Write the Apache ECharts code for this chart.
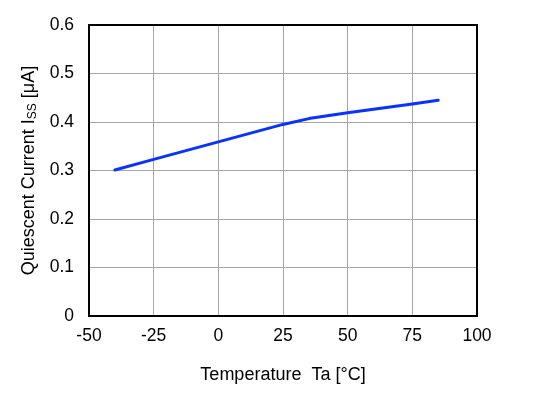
<!DOCTYPE html>
<html><head><meta charset="utf-8">
<script src="https://cdn.jsdelivr.net/npm/echarts@6/dist/echarts.min.js"></script>
<style>html,body{margin:0;padding:0;background:#fff}#c{width:544px;height:395px}</style>
</head><body><div id="c"></div>
<script>
const temps = [-40, -25, 0, 25, 35, 50, 75, 85];
const current = [0.301, 0.323, 0.359, 0.395, 0.407, 0.419, 0.437, 0.445];
const xTicks = [-50, -25, 0, 25, 50, 75, 100];
const yTicks = [0, 0.1, 0.2, 0.3, 0.4, 0.5, 0.6];

const chart = echarts.init(document.getElementById('c'), null, {renderer: 'canvas'});
const font = 'Liberation Sans, Arial, sans-serif';
chart.setOption({
  animation: false,
  grid: {left: 89, right: 67, top: 25, bottom: 79, show: true, borderColor: '#000', borderWidth: 2, backgroundColor: 'transparent', z: 10},
  xAxis: {
    type: 'value', min: xTicks[0], max: xTicks[xTicks.length-1], interval: 25,
    axisLine: {show: false}, axisTick: {show: false},
    splitLine: {show: true, lineStyle: {color: '#a6a6a6', width: 1}},
    axisLabel: {color: '#000', fontSize: 17.5, fontFamily: font, margin: 11},
    name: 'Temperature  Ta [°C]', nameLocation: 'middle', nameGap: 50,
    nameTextStyle: {color: '#000', fontSize: 18, fontFamily: font}
  },
  yAxis: {
    type: 'value', min: yTicks[0], max: yTicks[yTicks.length-1], interval: 0.1,
    axisLine: {show: false}, axisTick: {show: false},
    splitLine: {show: true, lineStyle: {color: '#a6a6a6', width: 1}},
    axisLabel: {color: '#000', fontSize: 17.5, fontFamily: font, margin: 15,
      formatter: v => v === 0 ? '0' : v.toFixed(1)},
    name: '{n|Quiescent Current I}{s|SS}{n| [μA]}', nameLocation: 'middle', nameGap: 47,
    nameTextStyle: {color: '#000', fontSize: 18, fontFamily: font,
      rich: {n: {fontSize: 18, fontFamily: font, color: '#000'},
             s: {fontSize: 12, fontFamily: font, color: '#000', verticalAlign: 'bottom', padding: [7,0,0,0]}}}
  },
  series: [{
    type: 'line', data: temps.map((t,i)=>[t, current[i]]), smooth: false,
    showSymbol: false, lineStyle: {color: '#0a32ff', width: 3, cap: 'round', join: 'round'}, z: 5
  }]
});
</script></body></html>
